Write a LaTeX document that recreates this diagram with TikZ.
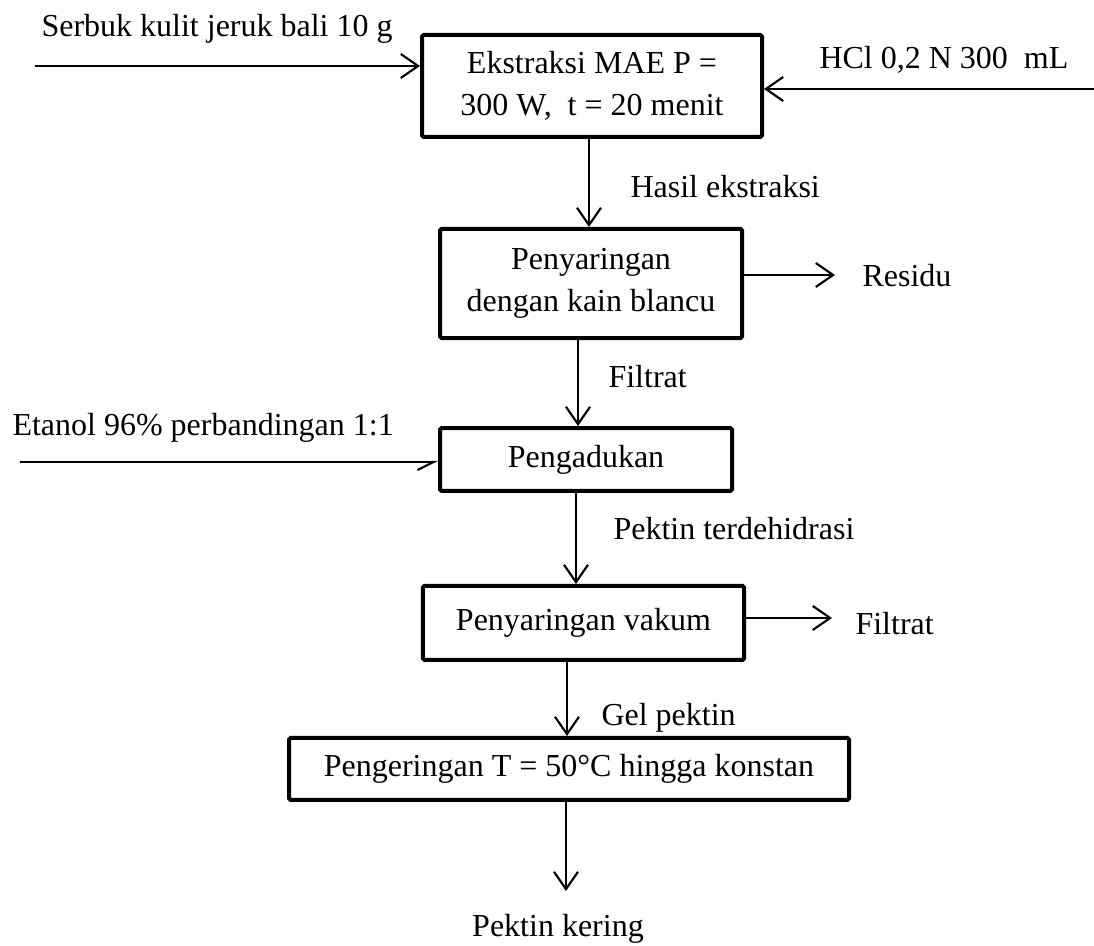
\documentclass[tikz,border=0pt]{standalone}
\usepackage{fontspec}
\setmainfont{Liberation Serif}
\usepackage{tikz}
\usetikzlibrary{arrows.meta, positioning, calc}

\begin{document}
\begin{tikzpicture}[x=0.375pt, y=-0.375pt,
		every node/.style={font=\fontsize{12}{15.8}\selectfont},
		box/.style={draw, line width=1.5pt, rounded corners=0.6pt, align=center, inner sep=0pt},
		lbl/.style={inner sep=0pt, anchor=base west},
		flow/.style={line width=0.7pt, -{Straight Barb[length=6.5pt, width=9pt, line width=0.8pt]}}]
				\useasboundingbox (0,0) rectangle (1094,946);
				% Process boxes
				\node[box, minimum width=127.5pt, minimum height=38.25pt] (ekstraksi) at (592,86) {Ekstraksi MAE P =\\300 W,\ \ t = 20 menit};
				\node[box, minimum width=113.25pt, minimum height=40.9pt] (saring) at (591,283.5) {Penyaringan\\dengan kain blancu};
				\node[box, minimum width=109.5pt, minimum height=23.6pt] (aduk) at (586,459.5) {Pengadukan};
				\node[box, minimum width=120.4pt, minimum height=27.75pt] (vakum) at (583.5,623) {Penyaringan vakum};
				\node[box, minimum width=210pt, minimum height=23.25pt] (kering) at (569,769) {Pengeringan T = 50°C hingga konstan};
				% Inputs and outputs
				\node[lbl] (serbuk) at (41,37) {Serbuk kulit jeruk bali 10 g};
				\node[lbl] (hcl) at (819,69) {HCl 0,2 N 300\ \ mL};
				\node[lbl] (etanol) at (12,436) {Etanol 96\% perbandingan 1:1};
				\node[lbl] (residu) at (862,287) {Residu};
				\node[lbl] (filtratA) at (608,388) {Filtrat};
				\node[lbl] (filtratB) at (855,635) {Filtrat};
				\node[lbl] (hasil) at (630,198) {Hasil ekstraksi};
				\node[lbl] (dehidrasi) at (613,540) {Pektin terdehidrasi};
				\node[lbl] (gel) at (601,726) {Gel pektin};
				\node[inner sep=0pt, anchor=base] (produk) at (558,937) {Pektin kering};
				% Connector ends
				\coordinate (serbukIn) at (35,66);
				\coordinate (hclIn) at (1094,89);
				\coordinate (etanolIn) at (20,462);
				\coordinate (residuOut) at (835,275);
				\coordinate (filtratOut) at (832,618);
				\coordinate (produkOut) at (566,891);
				\coordinate (xA) at (589,0);
				\coordinate (xB) at (578,0);
				\coordinate (xC) at (576,0);
				\coordinate (xD) at (567,0);
				% Main flow
				\draw[flow] (ekstraksi.south -| xA) -- (saring.north -| xA);
				\draw[flow] (saring.south -| xB) -- (aduk.north -| xB);
				\draw[flow] (aduk.south -| xC) -- (vakum.north -| xC);
				\draw[flow] (vakum.south -| xD) -- (kering.north -| xD);
				\draw[flow] (kering.south -| produkOut) -- (produkOut);
				% Side streams
				\draw[flow] (serbukIn) -- (serbukIn -| ekstraksi.west);
				\draw[flow, line width=0.45pt] (hclIn) -- (hclIn -| ekstraksi.east);
				\draw[line width=0.7pt, -{Straight Barb[right, length=6pt, width=6pt, line width=0.8pt]}] (etanolIn) -- (etanolIn -| aduk.west);
				\draw[flow] (residuOut -| saring.east) -- (residuOut);
				\draw[flow] (filtratOut -| vakum.east) -- (filtratOut);
			\end{tikzpicture}
\end{document}
